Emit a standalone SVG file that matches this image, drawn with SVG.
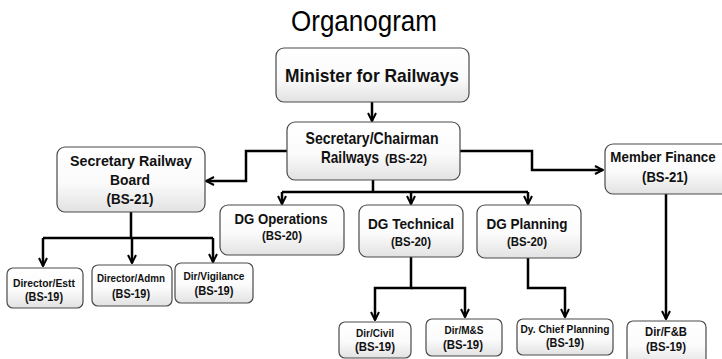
<svg xmlns="http://www.w3.org/2000/svg" width="722" height="359" viewBox="0 0 722 359">
<style>
.box{fill:url(#g);stroke:#4a4a4a;stroke-width:1.2}
text{font-family:"Liberation Sans",Arial,sans-serif;font-weight:bold;fill:#111;text-anchor:middle}
.t{font-weight:normal;fill:#000}
.s{text-anchor:start}
.c{fill:none;stroke:#000;stroke-width:2.5}
</style>
<defs>
<linearGradient id="g" x1="0" y1="0" x2="0" y2="1">
<stop offset="0" stop-color="#ffffff"/>
<stop offset="0.55" stop-color="#fbfbfb"/>
<stop offset="1" stop-color="#e2e2e2"/>
</linearGradient>
<marker id="a" viewBox="0 0 10 10" refX="9" refY="5" markerWidth="10" markerHeight="10" markerUnits="userSpaceOnUse" orient="auto">
<path d="M1,1 L9,5 L1,9" fill="none" stroke="#000" stroke-width="2"/>
</marker>
</defs>
<rect width="722" height="359" fill="#fff"/>
<text class="t" x="364" y="31" font-size="29" textLength="146" lengthAdjust="spacingAndGlyphs">Organogram</text>

<g id="connectors">
<path class="c" d="M372,102 V121" marker-end="url(#a)"/>
<path class="c" d="M287,151 H246 V181 H206" marker-end="url(#a)"/>
<path class="c" d="M460,151 H532 V170 H603" marker-end="url(#a)"/>
<path class="c" d="M373,180 V192 M282,192 H528"/>
<path class="c" d="M282,192 V204" marker-end="url(#a)"/>
<path class="c" d="M411,192 V204" marker-end="url(#a)"/>
<path class="c" d="M528,192 V204" marker-end="url(#a)"/>
<path class="c" d="M131,212 V238 M43,238 H213"/>
<path class="c" d="M43,238 V266" marker-end="url(#a)"/>
<path class="c" d="M132,238 V263" marker-end="url(#a)"/>
<path class="c" d="M213,238 V262" marker-end="url(#a)"/>
<path class="c" d="M411,257 V288 H375 V320" marker-end="url(#a)"/>
<path class="c" d="M411,288 H465 V317" marker-end="url(#a)"/>
<path class="c" d="M528,258 V288 H565 V317" marker-end="url(#a)"/>
<path class="c" d="M666,194 V319" marker-end="url(#a)"/>
</g>

<g id="minister">
<rect class="box" x="276" y="48" width="193" height="54" rx="8"/>
<text x="372" y="82" font-size="19" textLength="174" lengthAdjust="spacingAndGlyphs">Minister for Railways</text>
</g>
<g id="chairman">
<rect class="box" x="287" y="122" width="173" height="58" rx="8"/>
<text x="372" y="144" font-size="16" textLength="133" lengthAdjust="spacingAndGlyphs">Secretary/Chairman</text>
<text class="s" transform="translate(321,163) scale(0.85,1)" font-size="16">Railways</text>
<text class="s" x="385" y="163" font-size="12">(BS-22)</text>
</g>
<g id="board">
<rect class="box" x="57" y="147" width="148" height="65" rx="8"/>
<text x="131" y="166" font-size="15.5" textLength="122" lengthAdjust="spacingAndGlyphs">Secretary Railway</text>
<text x="130" y="185" font-size="15.5" textLength="40" lengthAdjust="spacingAndGlyphs">Board</text>
<text x="130" y="204" font-size="15.5" textLength="47" lengthAdjust="spacingAndGlyphs">(BS-21)</text>
</g>
<g id="finance">
<rect class="box" x="605" y="144" width="130" height="50" rx="8"/>
<text transform="translate(663,162) scale(0.89,1)" font-size="15">Member Finance</text>
<text x="665" y="182" font-size="15" textLength="46" lengthAdjust="spacingAndGlyphs">(BS-21)</text>
</g>
<g id="dg-operations">
<rect class="box" x="220" y="205" width="124" height="50" rx="8"/>
<text x="281" y="224" font-size="15" textLength="93" lengthAdjust="spacingAndGlyphs">DG Operations</text>
<text x="282" y="240" font-size="12.5" textLength="40" lengthAdjust="spacingAndGlyphs">(BS-20)</text>
</g>
<g id="dg-technical">
<rect class="box" x="359" y="205" width="104" height="52" rx="8"/>
<text x="411" y="229" font-size="15.5" textLength="86" lengthAdjust="spacingAndGlyphs">DG Technical</text>
<text x="411" y="246" font-size="12.5" textLength="40" lengthAdjust="spacingAndGlyphs">(BS-20)</text>
</g>
<g id="dg-planning">
<rect class="box" x="477" y="205" width="104" height="53" rx="8"/>
<text x="527" y="229" font-size="15.5" textLength="81" lengthAdjust="spacingAndGlyphs">DG Planning</text>
<text x="527" y="246" font-size="12.5" textLength="40" lengthAdjust="spacingAndGlyphs">(BS-20)</text>
</g>
<g id="director-estt">
<rect class="box" x="7" y="268" width="76" height="40" rx="6"/>
<text x="44" y="287" font-size="11" textLength="62" lengthAdjust="spacingAndGlyphs">Director/Estt</text>
<text x="44" y="301" font-size="12" textLength="38" lengthAdjust="spacingAndGlyphs">(BS-19)</text>
</g>
<g id="director-admn">
<rect class="box" x="92" y="265" width="80" height="41" rx="6"/>
<text x="131" y="282" font-size="11.5" textLength="68" lengthAdjust="spacingAndGlyphs">Director/Admn</text>
<text x="131" y="298" font-size="12" textLength="38" lengthAdjust="spacingAndGlyphs">(BS-19)</text>
</g>
<g id="dir-vigilance">
<rect class="box" x="175" y="263" width="78" height="40" rx="6"/>
<text x="214" y="280" font-size="11.5" textLength="61" lengthAdjust="spacingAndGlyphs">Dir/Vigilance</text>
<text x="214" y="295" font-size="12" textLength="39" lengthAdjust="spacingAndGlyphs">(BS-19)</text>
</g>
<g id="dir-civil">
<rect class="box" x="339" y="322" width="72" height="36" rx="6"/>
<text x="375" y="337" font-size="11" textLength="38" lengthAdjust="spacingAndGlyphs">Dir/Civil</text>
<text x="375" y="351" font-size="12" textLength="40" lengthAdjust="spacingAndGlyphs">(BS-19)</text>
</g>
<g id="dir-ms">
<rect class="box" x="426" y="319" width="76" height="37" rx="6"/>
<text x="464" y="334" font-size="11" textLength="39" lengthAdjust="spacingAndGlyphs">Dir/M&amp;S</text>
<text x="463" y="349" font-size="12" textLength="40" lengthAdjust="spacingAndGlyphs">(BS-19)</text>
</g>
<g id="dy-chief-planning">
<rect class="box" x="517" y="319" width="96" height="36" rx="6"/>
<text x="565" y="333" font-size="11" textLength="89" lengthAdjust="spacingAndGlyphs">Dy. Chief Planning</text>
<text x="565" y="347" font-size="12" textLength="38" lengthAdjust="spacingAndGlyphs">(BS-19)</text>
</g>
<g id="dir-fb">
<rect class="box" x="627" y="321" width="79" height="45" rx="6"/>
<text x="666" y="336" font-size="12" textLength="42" lengthAdjust="spacingAndGlyphs">Dir/F&amp;B</text>
<text x="666" y="351" font-size="12" textLength="40" lengthAdjust="spacingAndGlyphs">(BS-19)</text>
</g>
</svg>
